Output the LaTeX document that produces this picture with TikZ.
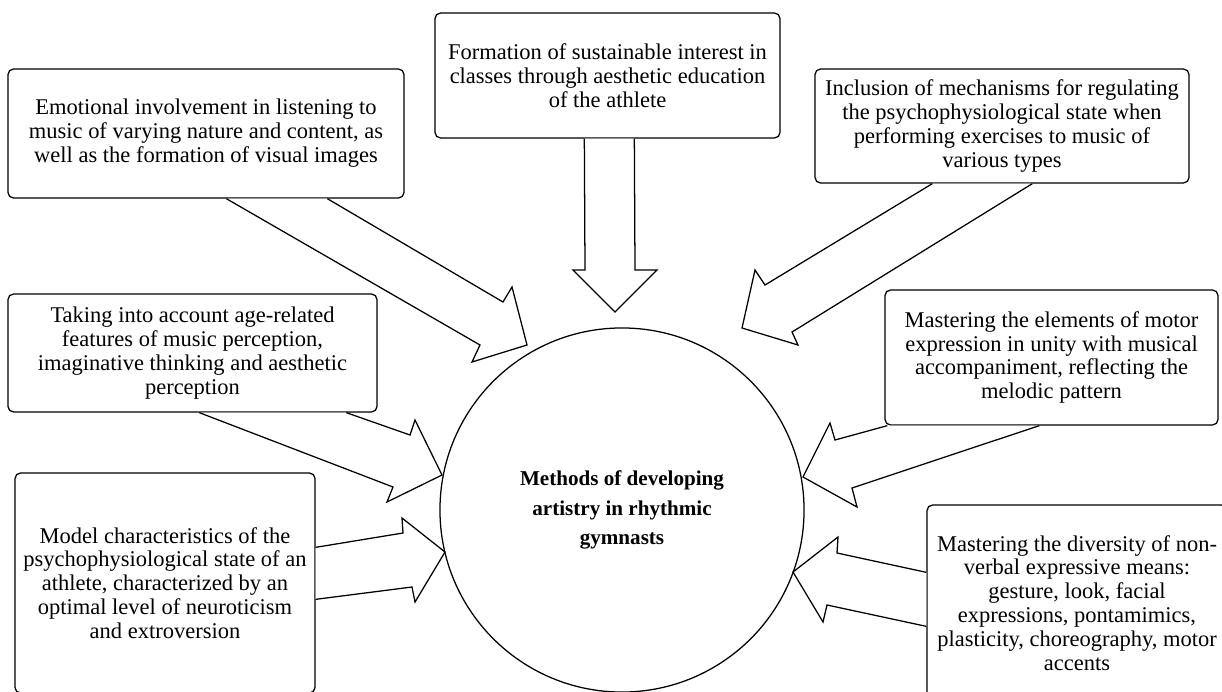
\documentclass[tikz,border=0pt]{standalone}
\usepackage{fontspec}
\setmainfont{Liberation Serif}
\usetikzlibrary{calc}
\tikzset{
  idea/.style={draw, line width=0.9pt, rounded corners=4pt, fill=white, align=center,
    inner sep=2pt, font=\fontsize{16}{17}\selectfont},
  fatarrow/.style={draw, line width=0.9pt, fill=white, line join=miter},
}
\begin{document}
\begin{tikzpicture}[x=0.025cm, y=-0.025cm]
\useasboundingbox (0,0) rectangle (1222,691);
\clip (0,0) rectangle (1222,691);
% the aim in the middle
\node[draw, circle, line width=0.9pt, minimum size=9.1cm, inner sep=0pt, align=center,
  font=\fontsize{15}{21}\selectfont\bfseries] (core) at (622,510)
  {Methods of developing\\ artistry in rhythmic\\ gymnasts};
% the seven ways round it
\node[idea, minimum width=9.9cm, minimum height=3.225cm] (emo) at (206,133.5)
  {Emotional involvement in listening to\\ music of varying nature and content, as\\ well as the formation of visual images};
\node[idea, minimum width=8.625cm, minimum height=3.125cm] (form) at (607.5,75.5)
  {Formation of sustainable interest in\\ classes through aesthetic education\\ of the athlete};
\node[idea, minimum width=9.35cm, minimum height=2.85cm] (incl) at (1002,126)
  {Inclusion of mechanisms for regulating\\ the psychophysiological state when\\ performing exercises to music of\\ various types};
\node[idea, minimum width=9.225cm, minimum height=2.95cm] (take) at (192.5,353)
  {Taking into account age-related\\ features of music perception,\\ imaginative thinking and aesthetic\\ perception};
\node[idea, minimum width=8.325cm, minimum height=3.375cm] (motor) at (1051.5,357.5)
  {Mastering the elements of motor\\ expression in unity with musical\\ accompaniment, reflecting the\\ melodic pattern};
\node[idea, minimum width=7.5cm, minimum height=5.5cm] (model) at (165,583)
  {Model characteristics of the\\ psychophysiological state of an\\ athlete, characterized by an\\ optimal level of neuroticism\\ and extroversion};
\node[idea, minimum width=7.5cm, minimum height=4.9cm] (div) at (1077,603)
  {Mastering the diversity of non-\\ verbal expressive means:\\ gesture, look, facial\\ expressions, pontamimics,\\ plasticity, choreography, motor\\ accents};
% block arrows, box -> circle
\draw[fatarrow] ($(emo.south west)+(219,0)$) -- (480,345) -- (472,362)
  -- ($(core.center)+(-95,-165)$) -- (512,287) -- (503,302) -- ($(emo.south west)+(320,0)$);
\draw[fatarrow] ($(form.south west)+(150,0)$) -- (585,270) -- (573,270)
  -- ($(core.center)+(-7,-198)$) -- (657,270) -- (635,270) -- ($(form.south west)+(200,0)$);
\draw[fatarrow] ($(incl.south west)+(118,0)$) -- (765,285) -- (755,270)
  -- ($(core.center)+(120,-182)$) -- (798,345) -- (792,332) -- ($(incl.south west)+(218,0)$);
\draw[fatarrow] ($(take.south west)+(339,0)$) -- (410,435) -- (415,420)
  -- ($(core.center)+(-180,-35)$) -- (387,502) -- (393,487) -- ($(take.south west)+(192,0)$);
\draw[fatarrow] ($(model.north east)+(0,75)$) -- (403,533) -- (402,518)
  -- ($(core.center)+(-177,42)$) -- (415,602) -- (412,587) -- ($(model.north east)+(0,127)$);
\draw[fatarrow] ($(motor.south west)+(3,0)$) -- (835,440) -- (830,423)
  -- ($(core.center)+(181,-33)$) -- (857,507) -- (852,488) -- ($(motor.south west)+(155,0)$);
\draw[fatarrow] ($(div.north west)+(0,68)$) -- (837,553) -- (838,537)
  -- ($(core.center)+(171,62)$) -- (823,622) -- (827,605) -- ($(div.north west)+(0,122)$);
\end{tikzpicture}
\end{document}
